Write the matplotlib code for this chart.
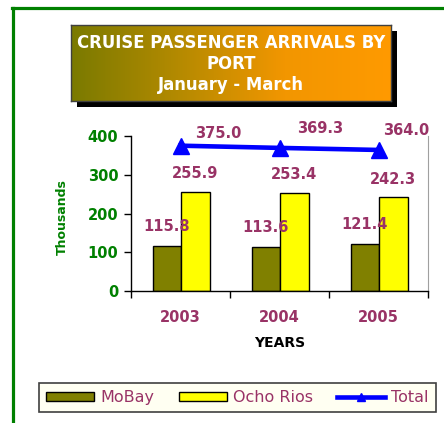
import numpy as np
import matplotlib
matplotlib.use('Agg')
import matplotlib.pyplot as plt
from matplotlib.colors import LinearSegmentedColormap
from matplotlib.patches import Rectangle, Patch
from matplotlib.lines import Line2D

# data
years = ['2003', '2004', '2005']
mobay = [115.8, 113.6, 121.4]
ocho_rios = [255.9, 253.4, 242.3]
total = [375.0, 369.3, 364.0]

W, H = 444, 423
PURPLE = '#993366'
GREEN = '#008000'

fig = plt.figure(figsize=(W / 100, H / 100), dpi=100)
fig.patch.set_facecolor('white')

def fx(px):
    return px / W

def fy(py):
    return 1 - py / H

# green border (left + top)
fig.add_artist(Line2D([fx(12.5), fx(12.5)], [fy(423), fy(8.5)], color=GREEN, lw=2.3))
fig.add_artist(Line2D([fx(11.5), fx(444)], [fy(8.5), fy(8.5)], color=GREEN, lw=2.3))

# title box with shadow and gradient
bx0, by0, bx1, by1 = 71, 25, 391, 101
fig.add_artist(Rectangle((fx(bx0 + 6), fy(by1 + 6)), fx(bx1 - bx0), (by1 - by0) / H,
                         facecolor='black', edgecolor='none', transform=fig.transFigure,
                         zorder=-1))
tax = fig.add_axes([fx(bx0), fy(by1), fx(bx1 - bx0), (by1 - by0) / H])
tax.set_zorder(1)
cmap = LinearSegmentedColormap.from_list('oo', ['#7A7A00', '#B48A00', '#F29600', '#FF9A00'])
tax.imshow(np.linspace(0, 1, 256).reshape(1, -1), aspect='auto', cmap=cmap, extent=[0, 1, 0, 1])
tax.set_xticks([])
tax.set_yticks([])
for s in tax.spines.values():
    s.set_color('#404040')
    s.set_linewidth(1)
tcx = fx((bx0 + bx1) / 2)
for ty, line in [(43, 'CRUISE PASSENGER ARRIVALS BY'), (64, 'PORT'), (85, 'January - March')]:
    fig.text(tcx, fy(ty), line, color='white', fontsize=11.9, fontweight='bold',
             ha='center', va='center', zorder=5)

# main axes
ax = fig.add_axes([fx(131), fy(291), fx(428 - 131), (291 - 136) / H])
x = np.arange(len(years))
bw = 0.29
ax.bar(x - bw / 2 + 0.01, mobay, bw, color='#808000', edgecolor='black', linewidth=1, zorder=2)
ax.bar(x + bw / 2 + 0.01, ocho_rios, bw, color='#FFFF00', edgecolor='black', linewidth=1, zorder=2)
ax.plot(x, total, color='#0000FF', lw=3.3, marker='^', markersize=11, zorder=3)

ax.set_xlim(-0.5, 2.5)
ax.set_ylim(0, 400)
ax.set_yticks([0, 100, 200, 300, 400])
ax.tick_params(axis='y', direction='out', length=5, width=1, colors='black',
               labelcolor=GREEN, labelsize=10.5, pad=4)
for t in ax.get_yticklabels():
    t.set_fontweight('bold')
ax.set_xticks([-0.5, 0.5, 1.5, 2.5])
ax.set_xticklabels([])
ax.tick_params(axis='x', direction='out', length=5, width=1)
ax.set_xticks(x, minor=True)
ax.set_xticklabels(years, minor=True)
ax.tick_params(axis='x', which='minor', length=0, pad=14, labelsize=10.5, labelcolor=PURPLE)
for t in ax.get_xticklabels(minor=True):
    t.set_fontweight('bold')

ax.spines['top'].set_visible(False)
ax.spines['right'].set_color('#A0A0A0')
ax.spines['left'].set_linewidth(1)
ax.spines['bottom'].set_linewidth(1)

# data labels
for i in range(len(years)):
    ax.annotate(f'{mobay[i]:.1f}', (x[i] - bw / 2, mobay[i]), xytext=(0, 14),
                textcoords='offset points', ha='center', va='center',
                color=PURPLE, fontsize=10.5, fontweight='bold', zorder=4)
    ax.annotate(f'{ocho_rios[i]:.1f}', (x[i] + bw / 2, ocho_rios[i]), xytext=(0, 13),
                textcoords='offset points', ha='center', va='center',
                color=PURPLE, fontsize=10.5, fontweight='bold', zorder=4)
tot_off = [(27, 9), (29, 14), (20, 14)]
for i in range(len(years)):
    ax.annotate(f'{total[i]:.1f}', (x[i], total[i]), xytext=tot_off[i],
                textcoords='offset points', ha='center', va='center',
                color=PURPLE, fontsize=10.5, fontweight='bold', zorder=4,
                annotation_clip=False)

fig.text(fx(62), fy(217), 'Thousands', rotation=90, color=GREEN, fontsize=9,
         fontweight='bold', ha='center', va='center')
fig.text(fx(280), fy(343), 'YEARS', color='black', fontsize=10, fontweight='bold',
         ha='center', va='center')

# legend
handles = [Patch(facecolor='#808000', edgecolor='black', linewidth=1),
           Patch(facecolor='#FFFF00', edgecolor='black', linewidth=1),
           Line2D([0], [0], color='#0000FF', lw=3.3, marker='^', markersize=6)]
leg = fig.legend(handles, ['MoBay', 'Ocho Rios', 'Total'], ncol=3, loc='center',
                 bbox_to_anchor=(fx(237.5), fy(397.5)), fontsize=11.5, frameon=True,
                 fancybox=False, framealpha=1, handlelength=3.0, handleheight=0.5,
                 handletextpad=0.4, columnspacing=1.5, borderpad=0.45, borderaxespad=0)
leg.get_frame().set_facecolor('#FFFFF2')
leg.get_frame().set_edgecolor('#404040')
leg.get_frame().set_linewidth(1.2)
for t in leg.get_texts():
    t.set_color(PURPLE)

fig.savefig('out.png', dpi=100)
